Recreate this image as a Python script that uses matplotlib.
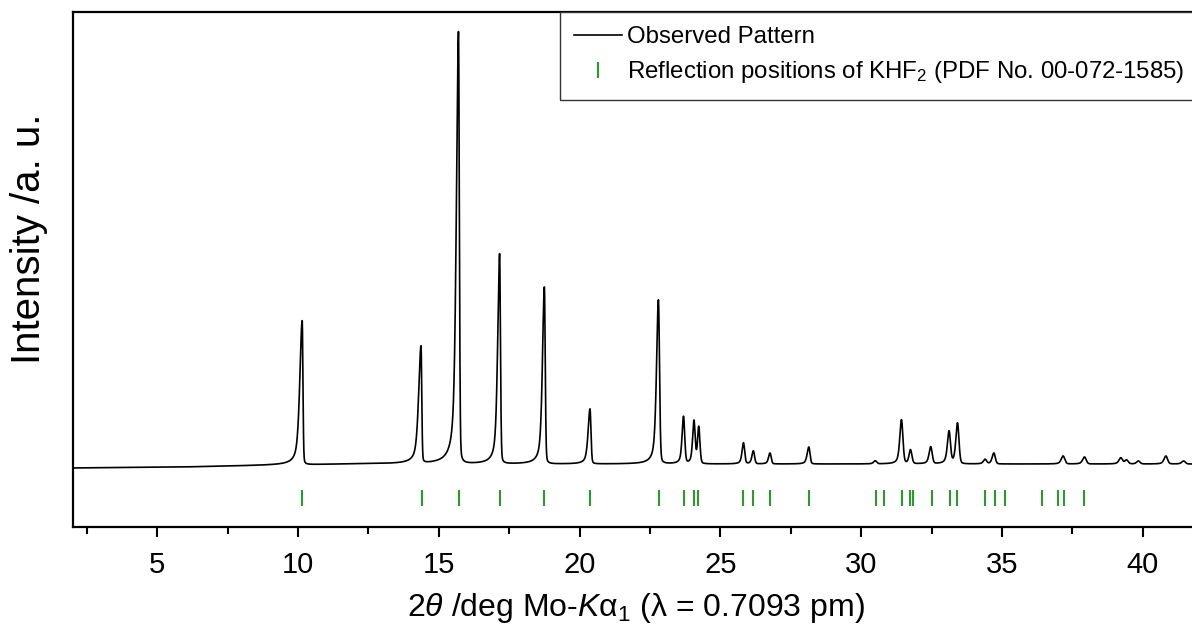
import numpy as np
import matplotlib
matplotlib.use('Agg')
import matplotlib.pyplot as plt
from matplotlib.ticker import MultipleLocator

plt.rcParams['font.family'] = ['Liberation Sans', 'DejaVu Sans']
plt.rcParams['mathtext.fontset'] = 'custom'
plt.rcParams['mathtext.rm'] = 'Liberation Sans'
plt.rcParams['mathtext.it'] = 'Liberation Sans:italic'
plt.rcParams['mathtext.bf'] = 'Liberation Sans:bold'

# ---- observed pattern: peaks (2theta, height above baseline, left/right HWHM)
peak_pos = [10.15, 14.37, 15.70, 17.16, 18.75, 20.37, 22.80, 23.69, 24.06, 24.23,
            25.82, 26.17, 26.76, 28.14, 30.50, 31.43, 31.75, 32.47, 33.12, 33.42,
            34.40, 34.71, 37.17, 37.93, 39.22, 39.42, 39.84, 40.82, 41.45]
peak_height = [144, 117, 432, 210, 177, 55, 164, 47, 42, 37,
               21, 13, 11, 17, 3, 44, 14, 17, 32, 41,
               4.5, 11, 8, 7, 6, 4, 3, 8, 3]
peak_hwhm_left = [0.10, 0.10, 0.09, 0.08, 0.08, 0.08, 0.08, 0.06, 0.055, 0.05,
                  0.06, 0.06, 0.06, 0.07, 0.07, 0.07, 0.06, 0.07, 0.07, 0.07,
                  0.07, 0.07, 0.08, 0.08, 0.08, 0.07, 0.07, 0.08, 0.08]
peak_hwhm_right = [0.03, 0.03, 0.035, 0.035, 0.035, 0.04, 0.045, 0.05, 0.05, 0.05,
                   0.05, 0.05, 0.05, 0.05, 0.06, 0.06, 0.06, 0.06, 0.06, 0.06,
                   0.06, 0.06, 0.07, 0.07, 0.07, 0.07, 0.07, 0.07, 0.07]
# background level (relative to the flat baseline) at a few 2theta positions
bg_pos = [2.0, 6.0, 9.5, 12.0, 42.0]
bg_level = [-4.0, -3.0, -1.0, 0.0, 0.0]

# ---- reference reflection positions of KHF2 (PDF 00-072-1585)
reflection_pos = [10.16, 14.39, 15.71, 17.17, 18.75, 20.38, 22.82, 23.70, 24.06, 24.20,
                  25.82, 26.17, 26.77, 28.14, 30.51, 30.80, 31.45, 31.75, 31.85, 32.53,
                  33.14, 33.41, 34.38, 34.74, 35.12, 36.43, 36.99, 37.22, 37.93]

x_ticks = [5, 10, 15, 20, 25, 30, 35, 40]

# ---- build the profile from the peak list
two_theta = np.arange(2.0, 42.0005, 0.004)
intensity = np.interp(two_theta, bg_pos, bg_level)
for p, h, wl, wr in zip(peak_pos, peak_height, peak_hwhm_left, peak_hwhm_right):
    d = two_theta - p
    w = np.where(d < 0, wl, wr)
    eta = np.where(d < 0, 0.6, 0.2)
    u = (d / w) ** 2
    intensity += h * (eta / (1 + u) + (1 - eta) * np.exp(-np.log(2) * u))

fig = plt.figure(figsize=(11.92, 6.32), dpi=100)
ax = fig.add_axes([72.7 / 1192, 1 - 527 / 632, 1126.4 / 1192, 515 / 632])

ax.plot(two_theta, intensity, color='black', lw=1.2, label='Observed Pattern')
ax.plot(reflection_pos, [-33.5] * len(reflection_pos), linestyle='none', marker='|',
        ms=12.2, mew=1.5, color='#2e9a2e',
        label='Reflection positions of KHF$_2$ (PDF No. 00-072-1585)')

ax.set_xlim(2, 42)
ax.set_ylim(-63, 452)
ax.set_xticks(x_ticks)
ax.xaxis.set_minor_locator(MultipleLocator(2.5))
ax.tick_params(axis='x', which='major', direction='out', length=7, width=1.5,
               labelsize=21, pad=10)
ax.tick_params(axis='x', which='minor', direction='out', length=5, width=1.5)
ax.tick_params(axis='y', which='both', left=False, labelleft=False)
for s in ax.spines.values():
    s.set_linewidth(1.6)

ax.set_xlabel(r'2$\theta$ /deg Mo-$K$α$_1$ (λ = 0.7093 pm)', fontsize=23, labelpad=9)
ax.set_ylabel('Intensity /a. u.', fontsize=29)
ax.yaxis.set_label_coords(-0.022, 0.56)

leg = ax.legend(loc='upper right', borderaxespad=0, fontsize=17.3, frameon=True,
                fancybox=False, edgecolor='#333333', handlelength=2.0,
                handletextpad=0.22, borderpad=0.6, labelspacing=0.45, framealpha=1)
leg.get_frame().set_linewidth(1.0)

fig.savefig('out.png', dpi=100)
